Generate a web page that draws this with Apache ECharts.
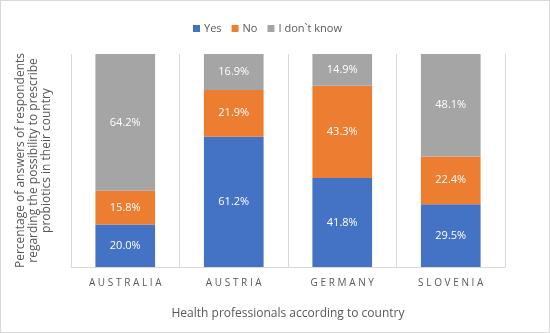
<!DOCTYPE html>
<html><head><meta charset="utf-8">
<script src="https://cdn.jsdelivr.net/npm/echarts@6/dist/echarts.min.js"></script>
<style>html,body{margin:0;padding:0;background:#fff}#c{width:548px;height:331px;border:1px solid #d9d9d9}</style>
</head><body><div id="c"></div>
<script>
const categories = ['Australia', 'Austria', 'Germany', 'Slovenia'];
const yesValues = [20.0, 61.2, 41.8, 29.5];
const noValues = [15.8, 21.9, 43.3, 22.4];
const dontKnowValues = [64.2, 16.9, 14.9, 48.1];
const seriesNames = ['Yes', 'No', 'I don`t know'];
const colors = ['#4472C4', '#ED7D31', '#A5A5A5'];
const FONT = 'Open Sans';

const chart = echarts.init(document.getElementById('c'), null, {renderer: 'canvas'});
function mk(name, data, color) {
  return {
    name, type: 'bar', stack: 'total', data, barWidth: '55%',
    itemStyle: {color},
    label: {show: true, position: 'inside', color: '#fff', fontFamily: FONT, fontSize: 11,
      formatter: p => p.value.toFixed(1) + '%'}
  };
}
chart.setOption({
  animation: false,
  textStyle: {fontFamily: FONT},
  legend: {top: 17, left: 187, itemWidth: 7, itemHeight: 7, itemGap: 10,
    icon: 'rect', textStyle: {fontFamily: FONT, fontSize: 11, color: '#595959', padding: [0, 0, 0, -1]},
    data: seriesNames},
  grid: {left: 70, right: 44, top: 53, bottom: 65, containLabel: false, outerBoundsMode: 'none'},
  xAxis: {type: 'category', data: categories,
    name: 'Health professionals according to country', nameLocation: 'middle', nameGap: 41,
    nameTextStyle: {fontFamily: FONT, fontSize: 12, color: '#595959'},
    axisLine: {show: true, lineStyle: {color: '#d9d9d9'}},
    axisTick: {show: false},
    splitLine: {show: true, interval: 0, lineStyle: {color: '#d9d9d9'}},
    axisLabel: {color: '#595959', fontFamily: FONT, fontSize: 10, margin: 11,
      formatter: v => v.toUpperCase().split('').join('\u2009\u200A')}},
  yAxis: {type: 'value', min: 0, max: 100, show: true,
    axisLine: {show: false}, axisTick: {show: false}, axisLabel: {show: false},
    splitLine: {show: false},
    name: 'Percentage of answers of respondents\nregarding the possibility to prescribe\nprobiotics in their country',
    nameLocation: 'middle', nameGap: 18, nameRotate: 90,
    nameTextStyle: {fontFamily: FONT, fontSize: 12, color: '#595959', lineHeight: 13, align: 'center'}},
  series: [mk(seriesNames[0], yesValues, colors[0]), mk(seriesNames[1], noValues, colors[1]), mk(seriesNames[2], dontKnowValues, colors[2])]
});
</script></body></html>
